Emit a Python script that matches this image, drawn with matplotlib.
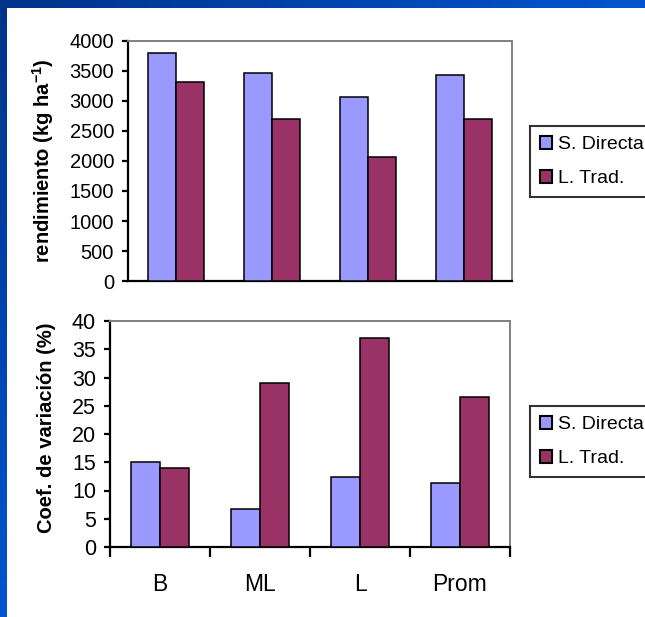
import numpy as np
import matplotlib
matplotlib.use('Agg')
import matplotlib.pyplot as plt
from matplotlib.colors import LinearSegmentedColormap

plt.rcParams['font.family'] = ['Liberation Sans', 'DejaVu Sans']

categories = ['B', 'ML', 'L', 'Prom']
series_names = ['S. Directa', 'L. Trad.']
rend_directa = [3805, 3470, 3060, 3440]
rend_trad = [3320, 2700, 2065, 2705]
cv_directa = [15.0, 6.8, 12.4, 11.3]
cv_trad = [14.0, 29.0, 37.0, 26.5]
rend_ticks = list(range(0, 4001, 500))
cv_ticks = list(range(0, 41, 5))

BLUE = '#9999ff'
WINE = '#993366'
W, H = 645, 617

fig = plt.figure(figsize=(W / 100, H / 100), dpi=100)
fig.patch.set_facecolor('white')

# blue frame along the top and left edges
frame_cmap = LinearSegmentedColormap.from_list('frame', ['#00338a', '#0055d0'])
grad = np.linspace(0, 1, 256)
ax_top = fig.add_axes([0, 1 - 8 / H, 1, 8 / H])
ax_top.imshow(grad[None, :], aspect='auto', cmap=frame_cmap)
ax_top.axis('off')
ax_left = fig.add_axes([0, 0, 7 / W, 1])
ax_left.imshow(grad[::-1, None], aspect='auto', cmap=frame_cmap, origin='lower')
ax_left.axis('off')


def px_axes(left, top, right, bottom):
    return fig.add_axes([left / W, 1 - bottom / H, (right - left) / W, (bottom - top) / H])


def style_axes(ax, tick_size):
    for side in ['left', 'bottom']:
        ax.spines[side].set_color('black')
        ax.spines[side].set_linewidth(1.6)
    for side in ['top', 'right']:
        ax.spines[side].set_color('#808080')
        ax.spines[side].set_linewidth(1.4)
    ax.tick_params(axis='y', direction='out', length=4, width=1.6, labelsize=tick_size, pad=6)


def draw_bars(ax, a, b, bw):
    x = np.arange(len(categories)) + 0.5
    ax.bar(x - bw / 2, a, bw, color=BLUE, edgecolor='black', linewidth=1.1, label=series_names[0], zorder=3)
    ax.bar(x + bw / 2, b, bw, color=WINE, edgecolor='black', linewidth=1.1, label=series_names[1], zorder=3)
    ax.set_xlim(0, len(categories))


def add_legend(ax, top_px):
    leg = ax.legend(loc='upper left', bbox_to_anchor=(530 / W, 1 - top_px / H),
                    bbox_transform=fig.transFigure, fontsize=14, frameon=True, fancybox=False,
                    borderpad=0.5, labelspacing=0.85, handlelength=0.65, handleheight=0.65,
                    handletextpad=0.3, borderaxespad=0)
    leg.get_frame().set_edgecolor('black')
    leg.get_frame().set_linewidth(1.5)
    for h in leg.legend_handles:
        h.set_linewidth(1.5)


# yield chart
ax1 = px_axes(128, 41, 512, 281)
draw_bars(ax1, rend_directa, rend_trad, 0.29)
ax1.set_ylim(0, 4000)
ax1.set_yticks(rend_ticks)
ax1.set_xticks([])
style_axes(ax1, 14.5)
ax1.set_ylabel('rendimiento (kg ha$^{\\mathregular{-1}}$)', fontsize=14.5, fontweight='bold')
ax1.yaxis.set_label_coords(56 / W, 1 - 161 / H, transform=fig.transFigure)
add_legend(ax1, 126)

# coefficient of variation chart
ax2 = px_axes(110, 321, 510, 547)
draw_bars(ax2, cv_directa, cv_trad, 0.29)
ax2.set_ylim(0, 40)
ax2.set_yticks(cv_ticks)
ax2.set_xticks(np.arange(len(categories) + 1))
ax2.set_xticks(np.arange(len(categories)) + 0.5, minor=True)
ax2.set_xticklabels([])
ax2.set_xticklabels(categories, minor=True)
ax2.tick_params(axis='x', which='major', direction='out', length=7, width=1.6)
ax2.tick_params(axis='x', which='minor', length=0, labelsize=16.5, pad=19)
style_axes(ax2, 15.5)
ax2.set_ylabel('Coef. de variación (%)', fontsize=14.5, fontweight='bold')
ax2.yaxis.set_label_coords(56 / W, 1 - 428 / H, transform=fig.transFigure)
add_legend(ax2, 406)

fig.savefig('out.png', dpi=100, facecolor='white')
